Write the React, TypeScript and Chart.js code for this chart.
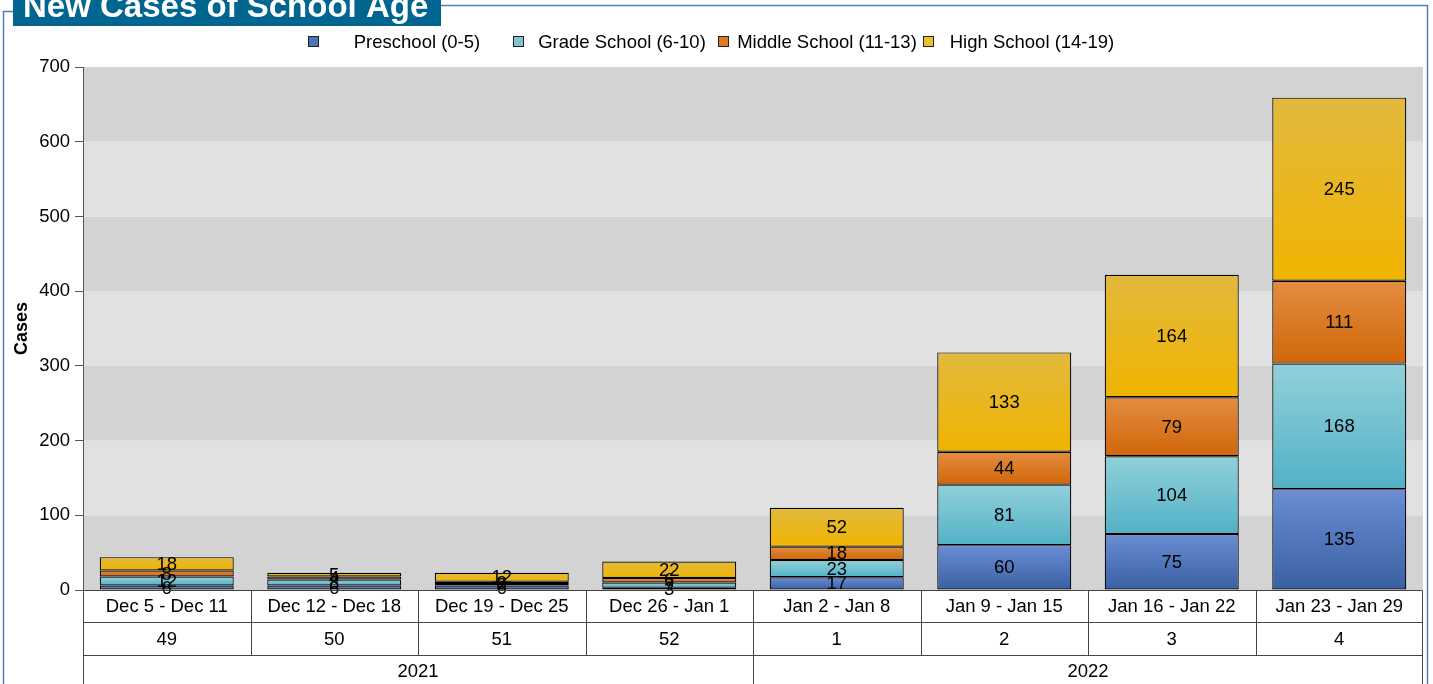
import React, { useEffect, useRef } from "react";
import { Chart, registerables } from "chart.js";

Chart.register(...registerables);

const categories = [
  "Dec 5 - Dec 11",
  "Dec 12 - Dec 18",
  "Dec 19 - Dec 25",
  "Dec 26 - Jan 1",
  "Jan 2 - Jan 8",
  "Jan 9 - Jan 15",
  "Jan 16 - Jan 22",
  "Jan 23 - Jan 29",
];
const weekNumbers = ["49", "50", "51", "52", "1", "2", "3", "4"];
const years = ["2021", "2022"];

const preschool = [6, 6, 6, 3, 17, 60, 75, 135];
const gradeSchool = [12, 8, 2, 7, 23, 81, 104, 168];
const middleSchool = [8, 4, 3, 6, 18, 44, 79, 111];
const highSchool = [18, 5, 12, 22, 52, 133, 164, 245];

const seriesLabels = [
  "Preschool (0-5)",
  "Grade School (6-10)",
  "Middle School (11-13)",
  "High School (14-19)",
];
const gradientTop = ["#6a8dd4", "#92d0da", "#e38d40", "#e2b93e"];
const gradientBottom = ["#3960a2", "#52b1c7", "#d1660a", "#f0b400"];
const legendColors = ["#4d72b9", "#7fc6d2", "#e07a22", "#edc02c"];

const titleText = "New Cases of School Age";
const yTitle = "Cases";

const FONT = "'Liberation Sans', Arial, sans-serif";

function makeGradient(dsIndex: number) {
  return (c: any) => {
    const chart = c.chart;
    if (c.type !== "data" || !chart.chartArea || !chart.scales.y) return legendColors[dsIndex];
    const i = c.dataIndex;
    let start = 0;
    for (let d = 0; d < dsIndex; d++) start += (chart.data.datasets[d].data[i] as number) || 0;
    const end = start + ((chart.data.datasets[dsIndex].data[i] as number) || 0);
    const y0 = chart.scales.y.getPixelForValue(end);
    const y1 = chart.scales.y.getPixelForValue(start);
    if (!isFinite(y0) || !isFinite(y1) || y0 === y1) return legendColors[dsIndex];
    const g = chart.ctx.createLinearGradient(0, y0, 0, y1);
    g.addColorStop(0, gradientTop[dsIndex]);
    g.addColorStop(1, gradientBottom[dsIndex]);
    return g;
  };
}

const bandsPlugin = {
  id: "bands",
  beforeDraw(chart: any) {
    const { ctx, chartArea } = chart;
    const y = chart.scales.y;
    const ticks = y.ticks.map((t: any) => t.value);
    ctx.save();
    for (let i = 0; i < ticks.length - 1; i++) {
      const top = y.getPixelForValue(ticks[i + 1]);
      const bot = y.getPixelForValue(ticks[i]);
      ctx.fillStyle = i % 2 === 0 ? "#d3d3d3" : "#e1e1e1";
      ctx.fillRect(chartArea.left, top, chartArea.right - chartArea.left, bot - top);
    }
    ctx.restore();
  },
};

const labelsPlugin = {
  id: "valueLabels",
  afterDatasetsDraw(chart: any) {
    const { ctx } = chart;
    ctx.save();
    ctx.font = `18.5px ${FONT}`;
    ctx.fillStyle = "#000";
    ctx.textAlign = "center";
    ctx.textBaseline = "middle";
    chart.data.datasets.forEach((ds: any, di: number) => {
      const meta = chart.getDatasetMeta(di);
      meta.data.forEach((el: any, i: number) => {
        const v = ds.data[i];
        ctx.fillText(String(v), el.x, (el.y + el.base) / 2 + 1);
      });
    });
    ctx.restore();
  },
};

const decorPlugin = {
  id: "decor",
  afterDraw(chart: any) {
    const { ctx, chartArea } = chart;
    const xs = chart.scales.x;
    const x2 = chart.scales.x2;
    const x3 = chart.scales.x3;
    ctx.save();
    // table lines
    ctx.strokeStyle = "#444";
    ctx.lineWidth = 1;
    const L = Math.round(chartArea.left) + 0.5;
    const R = Math.round(chartArea.right) - 0.5;
    const r0 = Math.round(chartArea.bottom) + 0.5;
    const r1 = Math.round(xs.bottom) + 0.5;
    const r2 = Math.round(x2.bottom) + 0.5;
    const r3 = chart.height + 2;
    ctx.beginPath();
    [r0, r1, r2].forEach((yy) => {
      ctx.moveTo(L, yy);
      ctx.lineTo(R, yy);
    });
    ctx.moveTo(L, r0);
    ctx.lineTo(L, r3);
    ctx.moveTo(R, r0);
    ctx.lineTo(R, r3);
    for (let i = 1; i < categories.length; i++) {
      const xx = Math.round((xs.getPixelForValue(i - 1) + xs.getPixelForValue(i)) / 2) + 0.5;
      ctx.moveTo(xx, r0);
      ctx.lineTo(xx, r2);
    }
    for (let i = 1; i < years.length; i++) {
      const xx = Math.round((x3.getPixelForValue(i - 1) + x3.getPixelForValue(i)) / 2) + 0.5;
      ctx.moveTo(xx, r2);
      ctx.lineTo(xx, r3);
    }
    ctx.stroke();

    // frame
    ctx.strokeStyle = "#4f7fbd";
    ctx.lineWidth = 1.5;
    ctx.beginPath();
    ctx.moveTo(3.5, chart.height + 2);
    ctx.lineTo(3.5, 11.5);
    ctx.lineTo(13, 11.5);
    ctx.moveTo(441, 5.5);
    ctx.lineTo(1427.5, 5.5);
    ctx.lineTo(1427.5, chart.height + 2);
    ctx.stroke();

    // title box
    ctx.fillStyle = "#00658f";
    ctx.fillRect(13, 0, 428, 26);
    ctx.fillStyle = "#ffffff";
    ctx.font = `bold 33px ${FONT}`;
    ctx.textAlign = "left";
    ctx.textBaseline = "alphabetic";
    ctx.fillText(titleText, 23, 17);

    // legend
    ctx.font = `18.5px ${FONT}`;
    ctx.textBaseline = "middle";
    ctx.textAlign = "center";
    const cellStart = 308;
    const cellW = 205;
    seriesLabels.forEach((lab, i) => {
      const bx = cellStart + i * cellW;
      ctx.fillStyle = legendColors[i];
      ctx.fillRect(bx + 0.5, 36.5, 10, 10);
      ctx.strokeStyle = "#222";
      ctx.lineWidth = 1;
      ctx.strokeRect(bx + 0.5, 36.5, 10, 10);
      ctx.fillStyle = "#000";
      ctx.fillText(lab, bx + 109, 43);
    });
    ctx.restore();
  },
};

export default function App() {
  const ref = useRef<HTMLCanvasElement | null>(null);
  useEffect(() => {
    document.body.style.margin = "0";
    document.body.style.overflow = "hidden";
    const canvas = ref.current;
    if (!canvas) return;
    const data = [preschool, gradeSchool, middleSchool, highSchool];
    const tickFont = { family: FONT, size: 18.5 };
    const chart = new Chart(canvas, {
      type: "bar",
      data: {
        labels: categories,
        datasets: data.map((d, i) => ({
          label: seriesLabels[i],
          data: d,
          backgroundColor: makeGradient(i),
          borderColor: "#000",
          borderWidth: 1.2,
          borderSkipped: false,
          barPercentage: 0.8,
          categoryPercentage: 1,
        })),
      },
      options: {
        responsive: false,
        animation: false,
        devicePixelRatio: 1,
        layout: { padding: { top: 67, left: 0, right: 10, bottom: 0 } },
        plugins: {
          legend: { display: false },
          title: { display: false },
          tooltip: { enabled: false },
        },
        scales: {
          x: {
            type: "category",
            stacked: true,
            offset: true,
            weight: 0,
            grid: { display: false, drawTicks: false },
            border: { display: false },
            ticks: { font: tickFont, color: "#000", padding: 6, maxRotation: 0, autoSkip: false },
            afterFit(s: any) {
              s.height = 32;
            },
          },
          x2: {
            type: "category",
            position: "bottom",
            labels: weekNumbers,
            offset: true,
            weight: 1,
            grid: { display: false, drawTicks: false },
            border: { display: false },
            ticks: { font: tickFont, color: "#000", padding: 7, maxRotation: 0, autoSkip: false },
            afterFit(s: any) {
              s.height = 33;
            },
          },
          x3: {
            type: "category",
            position: "bottom",
            labels: years,
            offset: true,
            weight: 2,
            grid: { display: false, drawTicks: false },
            border: { display: false },
            ticks: { font: tickFont, color: "#000", padding: 6, maxRotation: 0, autoSkip: false },
            afterFit(s: any) {
              s.height = 29;
            },
          },
          y: {
            stacked: true,
            min: 0,
            max: 700,
            ticks: { stepSize: 100, font: tickFont, color: "#000", padding: 5 },
            grid: { drawOnChartArea: false, drawTicks: true, tickLength: 8, color: "#555" },
            border: { display: true, color: "#555" },
            title: {
              display: true,
              text: yTitle,
              font: { family: FONT, size: 18, weight: "bold" },
              color: "#000",
              padding: { top: 11, bottom: 0 },
            },
            afterFit(s: any) {
              s.width = 83;
            },
          },
        },
      },
      plugins: [bandsPlugin, labelsPlugin, decorPlugin],
    } as any);
    return () => chart.destroy();
  }, []);
  return (
    <div style={{ position: "fixed", left: 0, top: 0, width: 1433, height: 684, background: "#fff" }}>
      <canvas ref={ref} width={1433} height={684} style={{ display: "block", width: 1433, height: 684 }} />
    </div>
  );
}
